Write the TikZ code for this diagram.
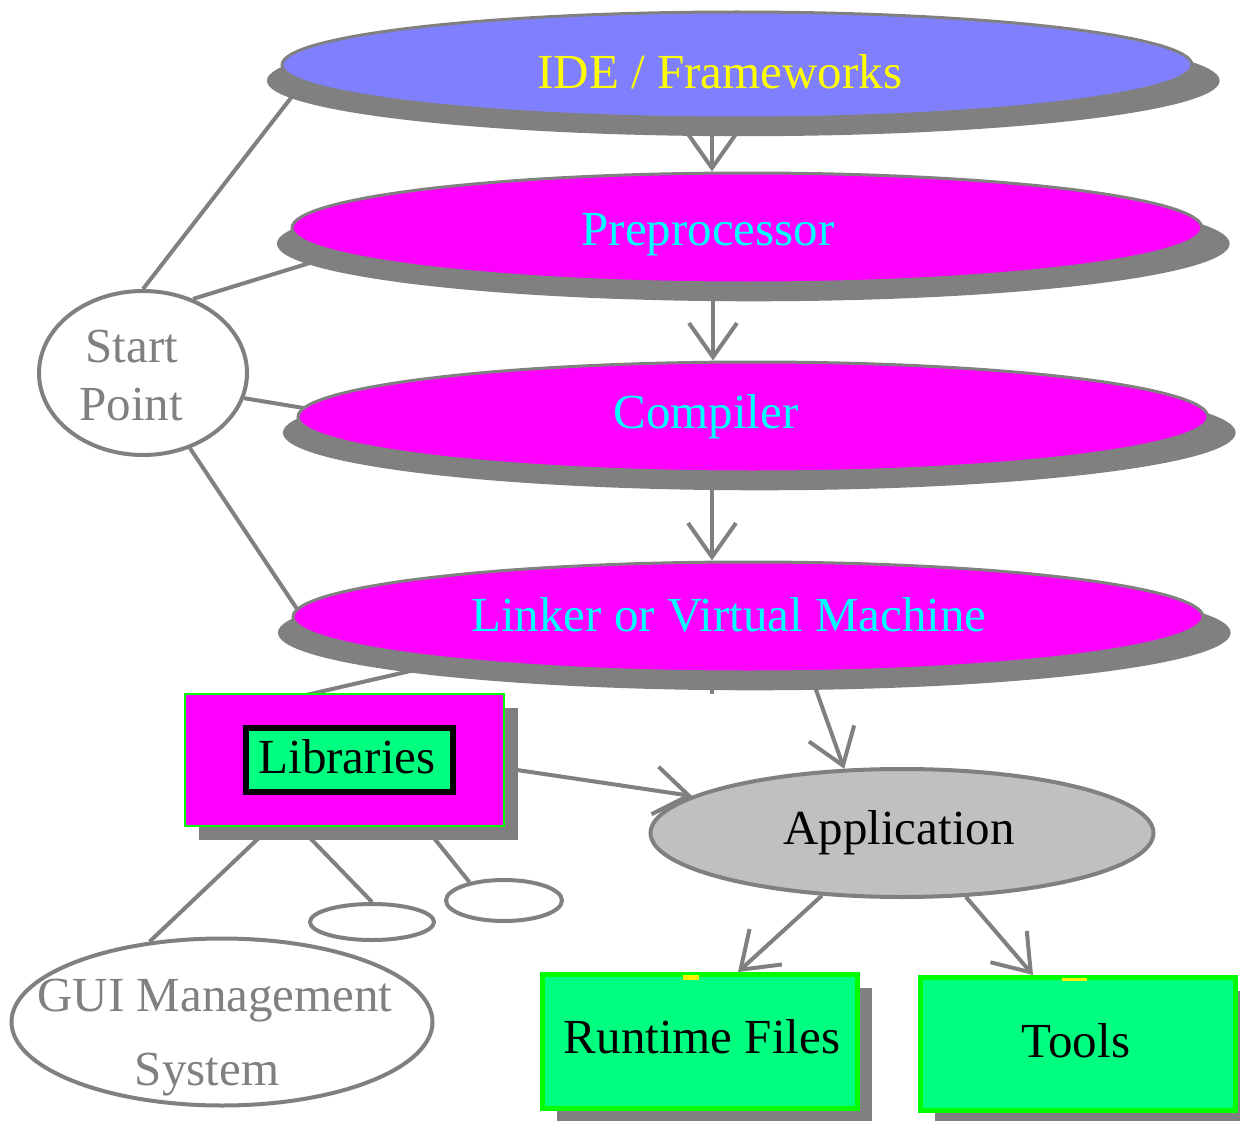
\documentclass[tikz,border=0pt]{standalone}
\usepackage{fontspec}
\setmainfont{Liberation Serif}
\usetikzlibrary{shapes.geometric, shadows, arrows.meta, backgrounds}
\definecolor{lineg}{HTML}{808080}
\definecolor{idefill}{HTML}{8080FF}
\definecolor{magfill}{HTML}{FF00FF}
\definecolor{cyantext}{HTML}{00FFFF}
\definecolor{yeltext}{HTML}{FFFF00}
\definecolor{boxgreen}{HTML}{00FF80}
\definecolor{edgegreen}{HTML}{00FF00}
\definecolor{appfill}{HTML}{C0C0C0}

\begin{document}
\begin{tikzpicture}[x=1pt, y=-1pt,
  bigfont/.style={font=\fontsize{49}{55}\selectfont},
  txt/.style={bigfont, anchor=base, inner sep=0pt, outer sep=0pt},
  stage/.style={ellipse, draw=lineg, line width=3pt, minimum width=910pt,
    minimum height=110pt, inner sep=0pt,
    general shadow={fill=lineg, shadow scale=1.047, shadow xshift=6pt, shadow yshift=-15pt}},
  plain/.style={ellipse, draw=lineg, line width=4pt, fill=white, inner sep=0pt},
  greenbox/.style={rectangle, fill=boxgreen, draw=edgegreen, line width=5pt,
    minimum width=315pt, inner sep=0pt,
    general shadow={fill=lineg, shadow xshift=14pt, shadow yshift=-13pt}},
  conn/.style={draw=lineg, line width=4pt},
  flow/.style={conn, -{Straight Barb[length=34pt,width=48pt]}},
]
\useasboundingbox (0,0) rectangle (1240,1121);

% build stages
\node[stage, fill=idefill, minimum height=106pt] (ide) at (737,65) {};
\node[txt, text=yeltext] (idet) at (720,89) {IDE / Frameworks};
\node[stage, fill=magfill] (pre) at (747,228) {};
\node[txt, text=cyantext] (pret) at (708,245) {Preprocessor};
\node[stage, fill=magfill] (comp) at (753,417) {};
\node[txt, text=cyantext] (compt) at (706,428) {Compiler};
\node[stage, fill=magfill] (link) at (748,617) {};
\node[txt, text=cyantext] (linkt) at (729,631) {Linker or Virtual Machine};

% start point
\node[plain, minimum width=208pt, minimum height=164pt] (start) at (143,373) {};
\node[txt, text=lineg] (startt) at (132,362) {Start};
\node[txt, text=lineg] (pointt) at (131,420) {Point};

% libraries
\node[rectangle, fill=magfill, draw=edgegreen, line width=2pt, minimum width=319pt,
  minimum height=132pt, inner sep=0pt,
  general shadow={fill=lineg, shadow xshift=14pt, shadow yshift=-14pt}] (libs) at (344.5,760) {};
\node[rectangle, fill=boxgreen, draw=black, line width=6pt, minimum width=207pt,
  minimum height=64pt, inner sep=0pt] (libbox) at (349.5,760) {};
\node[txt] (libt) at (347,773) {Libraries};

% application and its outputs
\node[plain, fill=appfill, minimum width=503pt, minimum height=128pt] (app) at (902,833) {};
\node[txt] (appt) at (899,844) {Application};
\node[greenbox, minimum height=134pt] (rt) at (700,1041.5) {};
\node[txt] (rtt) at (702,1053) {Runtime Files};
\node[greenbox, minimum height=133pt] (tools) at (1078,1044) {};
\node[txt] (toolst) at (1076,1057) {Tools};
\fill[yellow] ([shift={(-17,2.5)}]rt.north) rectangle ([shift={(-1,7.5)}]rt.north);
\fill[yellow] ([shift={(-16,2.5)}]tools.north) rectangle ([shift={(9,5.5)}]tools.north);

% library parts
\node[plain, minimum width=421pt, minimum height=167pt] (gui) at (222,1022) {};
\node[txt, text=lineg] (guit) at (215,1011) {GUI Management};
\node[txt, text=lineg] (syst) at (207,1085) {System};
\node[plain, minimum width=124pt, minimum height=36pt] (se1) at (372,922) {};
\node[plain, minimum width=116pt, minimum height=41pt] (se2) at (504,900.5) {};

% plain links, tucked under the shapes
\begin{scope}[on background layer]
\draw[conn] (start.90) -- ([shift={(-416,-6)}]ide.center);
\draw[conn] (start.56) -- ([shift={(-395,22)}]pre.center);
\draw[conn] (start.-14) -- ([shift={(-413,-3)}]comp.center);
\draw[conn] (start.-58.6) -- ([shift={(-437,13)}]link.center);
\draw[conn] ([shift={(-303,46)}]link.center) -- ([shift={(-60,-60)}]libs.center);
\draw[conn] ([shift={(-61.5,55)}]libs.center) -- (gui.132);
\draw[conn] ([shift={(-63.5,48)}]libs.center) -- (se1.north);
\draw[conn] ([shift={(68.5,52)}]libs.center) -- (se2.152);
\end{scope}

% flow arrows
\draw[flow] ([shift={(-25,52)}]ide.center) -- ([xshift=-35pt]pre.north);
\draw[flow] ([shift={(-34,70)}]pre.center) -- ([xshift=-40pt]comp.north);
\draw[flow] ([shift={(-41,71)}]comp.center) -- ([xshift=-36pt]link.north);
\draw[conn] ([shift={(-36,69)}]link.center) -- ([shift={(-36,77)}]link.center);
\draw[flow] ([shift={(67,70)}]link.center) -- (app.132);
\draw[flow] ([shift={(12,10)}]libs.east) -- (app.170);
\draw[flow] (app.218) -- ([xshift=38pt]rt.north);
\draw[flow] (app.-45) -- ([xshift=-45pt]tools.north);
\end{tikzpicture}
\end{document}
